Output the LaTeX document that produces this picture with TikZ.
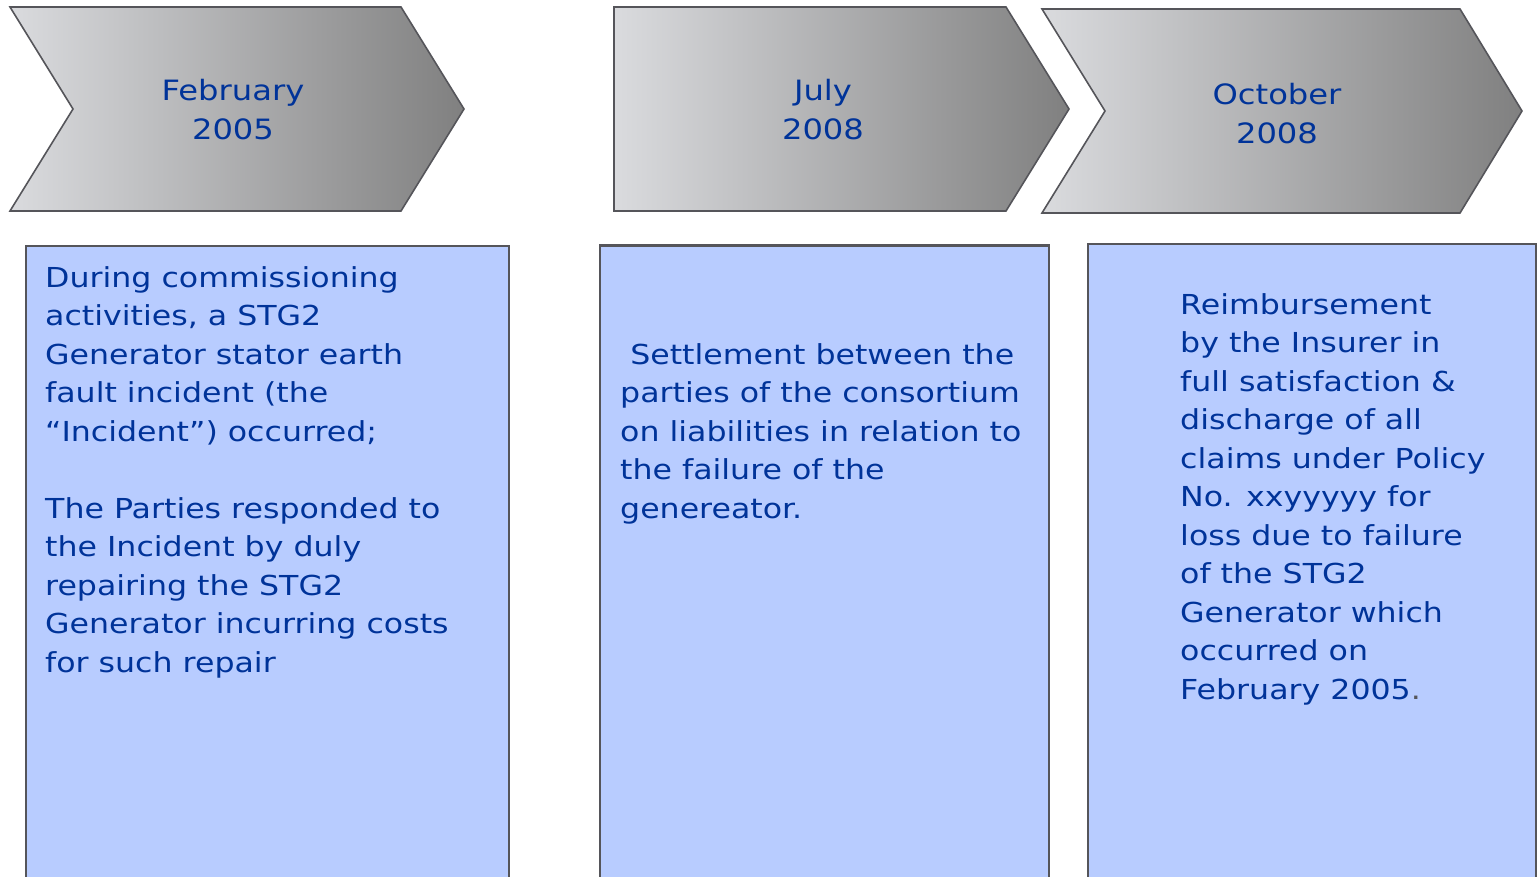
\documentclass[tikz,border=0pt]{standalone}
\usepackage{fontspec}
\setmainfont[FakeStretch=1.15]{DejaVu Sans}
\usetikzlibrary{positioning}
\definecolor{ink}{RGB}{0,51,153}
\definecolor{boxblue}{RGB}{184,204,255}
\definecolor{rim}{RGB}{85,85,90}
\definecolor{chevL}{RGB}{218,219,222}
\definecolor{chevR}{RGB}{128,128,128}
\tikzset{
  chevron/.style={draw=rim, line width=1.6pt, line join=miter, left color=chevL, right color=chevR},
  month/.style={align=center, text=ink, inner sep=0pt, font=\fontsize{28}{39}\selectfont},
  body/.style={anchor=north west, inner sep=0pt, align=left, text=ink, font=\fontsize{27.5}{38.5}\selectfont},
  panel/.style={fill=boxblue},
  rimline/.style={draw=rim, line width=1.6pt}
}

\begin{document}
\begin{tikzpicture}[x=1pt, y=-1pt]
    \useasboundingbox (0,0) rectangle (1537,877);
    \draw[chevron] (10,7) -- (401,7) -- (464,109) -- (401,211) -- (10,211) -- (73,109) -- cycle;
    \draw[chevron] (614,7) -- (1006,7) -- (1069,109) -- (1006,211) -- (614,211) -- cycle;
    \draw[chevron] (1042,9) -- (1460,9) -- (1522,111) -- (1460,213) -- (1042,213) -- (1105,111) -- cycle;
    \node[month] (feb) at (233,112.7) {\strut February\\\strut 2005};
    \node[month] (jul) at (823,112.7) {\strut July\\\strut 2008};
    \node[month] (oct) at (1277,116) {\strut October\\\strut 2008};

    \fill[panel] (26,246) rectangle (509,880);
    \draw[rimline] (26,880) -- (26,246) -- (509,246) -- (509,880);
    \fill[panel] (600,245) rectangle (1049,880);
    \draw[rimline] (600,880) -- (600,245) -- (1049,245) -- (1049,880);
    \draw[rim, line width=2.6pt] (600,245.5) -- (1049,245.5);
    \fill[panel] (1088,244) rectangle (1536,880);
    \draw[rimline] (1088,880) -- (1088,244) -- (1536,244) -- (1536,880);

    \node[body] (febtext) at (45,260) {\strut During commissioning\\activities, a STG2\\Generator stator earth\\fault incident (the\\“Incident”) occurred;\\[38.5pt]The Parties responded to\\the Incident by duly\\repairing the STG2\\Generator incurring costs\\for such repair};
    \node[body] (jultext) at (620,337) {\strut\ Settlement between the\\parties of the consortium\\on liabilities in relation to\\the failure of the\\genereator.};
    \node[body] (octtext) at (1180,287) {\strut Reimbursement\\by the Insurer in\\full satisfaction \&\\discharge of all\\claims under Policy\\No. xxyyyyy for\\loss due to failure\\of the STG2\\Generator which\\occurred on\\February 2005{\color{rim}.}};
\end{tikzpicture}
\end{document}
